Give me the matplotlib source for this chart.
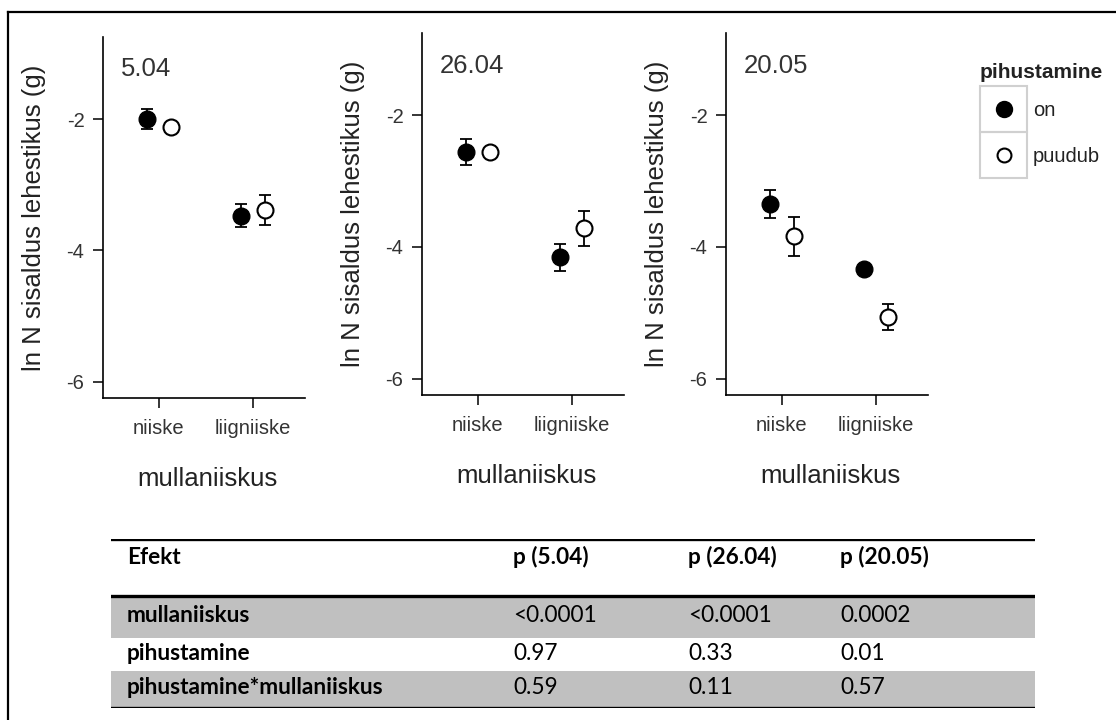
import matplotlib
matplotlib.use("Agg")
import matplotlib.pyplot as plt
from matplotlib.lines import Line2D
from matplotlib.patches import Rectangle

# --- data ---
dates = ["5.04", "26.04", "20.05"]
moisture = ["niiske", "liigniiske"]
treatments = ["on", "puudub"]

on_mean = [[-2.00, -3.47], [-2.56, -4.16], [-3.35, -4.33]]
on_se = [[0.15, 0.18], [0.20, 0.20], [0.21, 0.07]]
puudub_mean = [[-2.12, -3.38], [-2.56, -3.72], [-3.84, -5.06]]
puudub_se = [[0.06, 0.23], [0.05, 0.26], [0.30, 0.20]]

effects = ["mullaniiskus", "pihustamine", "pihustamine*mullaniiskus"]
p_cols = ["p (5.04)", "p (26.04)", "p (20.05)"]
p_5_04 = ["<0.0001", "0.97", "0.59"]
p_26_04 = ["<0.0001", "0.33", "0.11"]
p_20_05 = ["0.0002", "0.01", "0.57"]

W, H = 1116, 720
plt.rcParams["font.family"] = ["Liberation Sans", "DejaVu Sans"]
plt.rcParams["axes.unicode_minus"] = False
fig = plt.figure(figsize=(W / 100, H / 100), dpi=100)


def px_axes(x0, y0, x1, y1):
    return fig.add_axes([x0 / W, 1 - y1 / H, (x1 - x0) / W, (y1 - y0) / H])


# outer frame (only top/left visible in the crop)
fig.add_artist(Line2D([8 / W, 8 / W], [0, 1 - 12 / H], color="black", lw=1.6))
fig.add_artist(Line2D([8 / W, 1], [1 - 12 / H, 1 - 12 / H], color="black", lw=1.6))

panels = [(102.5, 37, 398), (421.5, 33, 395), (725.5, 33, 395)]
dodge = 0.125

for i, (x0, y0, y1) in enumerate(panels):
    ax = px_axes(x0, y0, x0 + 202, y1)
    xs = [1, 2]
    x_on = [x - dodge for x in xs]
    x_pu = [x + dodge for x in xs]
    ax.errorbar(x_on, on_mean[i], yerr=on_se[i], fmt="none", ecolor="black",
                elinewidth=1.3, capsize=4.5, capthick=1.3, zorder=2)
    ax.errorbar(x_pu, puudub_mean[i], yerr=puudub_se[i], fmt="none", ecolor="black",
                elinewidth=1.3, capsize=4.5, capthick=1.3, zorder=2)
    ax.plot(x_on, on_mean[i], "o", ms=12, mfc="black", mec="black", zorder=3)
    ax.plot(x_pu, puudub_mean[i], "o", ms=11.5, mfc="white", mec="black", mew=1.5,
            zorder=3)
    ax.set_xlim(0.4, 2.55)
    ax.set_ylim(-6.25, -0.75)
    ax.set_xticks(xs)
    ax.set_xticklabels(moisture)
    ax.set_yticks([-6, -4, -2])
    ax.spines["top"].set_visible(False)
    ax.spines["right"].set_visible(False)
    ax.spines["left"].set_linewidth(1.2)
    ax.spines["bottom"].set_linewidth(1.2)
    ax.tick_params(axis="both", length=7, width=1.1, labelsize=14.5, colors="black",
                   labelcolor="#333333")
    ax.tick_params(axis="x", pad=8)
    ax.tick_params(axis="y", pad=6)
    ax.set_xlabel("mullaniiskus", fontsize=18.5, color="#222222")
    ax.xaxis.set_label_coords(0.52, -0.19)
    ax.set_ylabel("ln N sisaldus lehestikus (g)", fontsize=18.5, color="#222222")
    ax.yaxis.set_label_coords(-0.28, 0.5)
    ax.text(0.09, 0.91, dates[i], transform=ax.transAxes, fontsize=18.5,
            color="#333333", ha="left", va="center")

# legend
fig.text(980 / W, 1 - 72 / H, "pihustamine", fontsize=15, fontweight="bold",
         ha="left", va="center", color="#222222")
lax = px_axes(980, 86, 1027, 178)
lax.set_xlim(0, 1)
lax.set_ylim(0, 2)
lax.axis("off")
for k, t in enumerate(treatments):
    yc = 1.5 - k
    lax.add_patch(Rectangle((0, yc - 0.5), 1, 1, fill=False, ec="#d0d0d0", lw=1.5,
                            clip_on=False))
    lax.plot([0.5], [yc], "o", ms=11 if t == "on" else 10,
             mfc="black" if t == "on" else "white", mec="black", mew=1.5,
             clip_on=False)
    fig.text(1033 / W, 1 - (86 + 46 * k + 24) / H, t, fontsize=14.5,
             ha="left", va="center", color="#222222")

# table of p-values
tx0, tx1 = 111, 1035
tax = px_axes(tx0, 539, tx1, 708)
tax.set_xlim(tx0, tx1)
tax.set_ylim(708, 539)
tax.axis("off")
tax.axhspan(596, 638, color="#c0c0c0", lw=0)
tax.axhspan(671, 708, color="#c0c0c0", lw=0)
for yy in (539, 596, 708):
    tax.axhline(yy, color="black", lw=2.4)

col_x = [127, 513, 688, 840]
tfont = ["Lato", "DejaVu Sans"]
fs = 16.3
for j, h in enumerate(["Efekt"] + p_cols):
    tax.text(col_x[j], 557, h, fontsize=fs, fontweight="bold", family=tfont,
             ha="left", va="center")
row_y = [615, 653, 688]
cols = [p_5_04, p_26_04, p_20_05]
for r, eff in enumerate(effects):
    tax.text(col_x[0], row_y[r], eff, fontsize=fs, fontweight="bold", family=tfont,
             ha="left", va="center")
    for c in range(3):
        tax.text(col_x[c + 1], row_y[r], cols[c][r], fontsize=fs, family=tfont,
                 ha="left", va="center")

fig.savefig("out.png", dpi=100)
